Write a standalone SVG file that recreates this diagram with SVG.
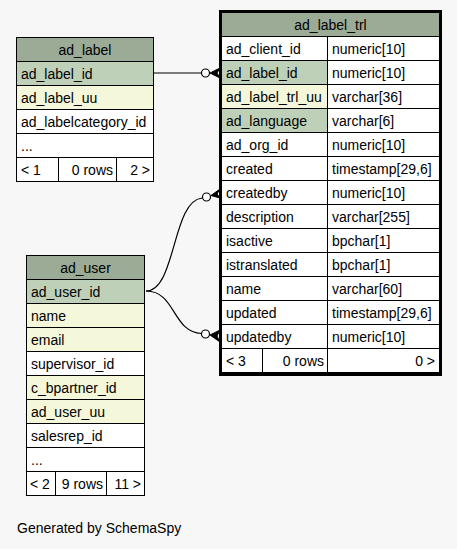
<svg xmlns="http://www.w3.org/2000/svg" width="457" height="549" viewBox="0 0 457 549">
<style>
.bg{fill:#f7f7f7}
rect{stroke:#000;stroke-width:1}
.h{fill:#9bab96}
.pk{fill:#bed1b8}
.ix{fill:#f4f7da}
.n{fill:#fff}
text{font-family:"Liberation Sans",Arial,sans-serif;font-size:14px;fill:#000}
.c{text-anchor:middle}
.r{text-anchor:end}
.edge{fill:none;stroke:#000;stroke-width:1.2}
.dot{fill:#fff;stroke:#000;stroke-width:1.2}
.crow{fill:#000;stroke:#000;stroke-width:1}
</style>
<rect class="bg" x="0" y="0" width="457" height="549" style="stroke:none"/>

<g id="connectors">
<path class="edge" d="M154,73 L201,73"/>
<circle class="dot" cx="205.5" cy="73" r="4"/>
<path class="crow" d="M210,73 L220,68 L217,73 L220,78 Z"/>

<path class="edge" d="M146,291 C176,291 172,201 202,198"/>
<circle class="dot" cx="206.5" cy="197" r="4"/>
<path class="crow" d="M211,195.5 L220,189 L217,194 L220,198 Z"/>

<path class="edge" d="M146,291 C176,291 172,332 201.5,333.5"/>
<circle class="dot" cx="205.5" cy="334" r="4"/>
<path class="crow" d="M210,335 L220,330 L217,336 L220,342 Z"/>
</g>

<g id="ad_label">
<rect class="h" x="16.5" y="37.5" width="137" height="24"/>
<text class="c" x="85" y="55">ad_label</text>
<rect class="pk" x="16.5" y="61.5" width="137" height="24"/>
<text x="21" y="79">ad_label_id</text>
<rect class="ix" x="16.5" y="85.5" width="137" height="24"/>
<text x="21" y="103">ad_label_uu</text>
<rect class="n" x="16.5" y="109.5" width="137" height="24"/>
<text x="21" y="127">ad_labelcategory_id</text>
<rect class="n" x="16.5" y="133.5" width="137" height="24"/>
<text x="21" y="151">...</text>
<rect class="n" x="16.5" y="157.5" width="42" height="24"/>
<text x="21" y="175">&lt; 1</text>
<rect class="n" x="58.5" y="157.5" width="58" height="24"/>
<text class="r" x="113" y="175">0 rows</text>
<rect class="n" x="116.5" y="157.5" width="37" height="24"/>
<text class="r" x="150" y="175">2 &gt;</text>
</g>

<g id="ad_label_trl">
<rect class="h" x="221.5" y="12.5" width="218" height="24"/>
<text class="c" x="330.5" y="30">ad_label_trl</text>
<rect class="n" x="221.5" y="36.5" width="106" height="24"/><rect class="n" x="327.5" y="36.5" width="112" height="24"/>
<text x="226" y="54">ad_client_id</text><text x="332" y="54">numeric[10]</text>
<rect class="pk" x="221.5" y="60.5" width="106" height="24"/><rect class="n" x="327.5" y="60.5" width="112" height="24"/>
<text x="226" y="78">ad_label_id</text><text x="332" y="78">numeric[10]</text>
<rect class="ix" x="221.5" y="84.5" width="106" height="24"/><rect class="n" x="327.5" y="84.5" width="112" height="24"/>
<text x="226" y="102">ad_label_trl_uu</text><text x="332" y="102">varchar[36]</text>
<rect class="pk" x="221.5" y="108.5" width="106" height="24"/><rect class="n" x="327.5" y="108.5" width="112" height="24"/>
<text x="226" y="126">ad_language</text><text x="332" y="126">varchar[6]</text>
<rect class="n" x="221.5" y="132.5" width="106" height="24"/><rect class="n" x="327.5" y="132.5" width="112" height="24"/>
<text x="226" y="150">ad_org_id</text><text x="332" y="150">numeric[10]</text>
<rect class="n" x="221.5" y="156.5" width="106" height="24"/><rect class="n" x="327.5" y="156.5" width="112" height="24"/>
<text x="226" y="174">created</text><text x="332" y="174">timestamp[29,6]</text>
<rect class="n" x="221.5" y="180.5" width="106" height="24"/><rect class="n" x="327.5" y="180.5" width="112" height="24"/>
<text x="226" y="198">createdby</text><text x="332" y="198">numeric[10]</text>
<rect class="n" x="221.5" y="204.5" width="106" height="24"/><rect class="n" x="327.5" y="204.5" width="112" height="24"/>
<text x="226" y="222">description</text><text x="332" y="222">varchar[255]</text>
<rect class="n" x="221.5" y="228.5" width="106" height="24"/><rect class="n" x="327.5" y="228.5" width="112" height="24"/>
<text x="226" y="246">isactive</text><text x="332" y="246">bpchar[1]</text>
<rect class="n" x="221.5" y="252.5" width="106" height="24"/><rect class="n" x="327.5" y="252.5" width="112" height="24"/>
<text x="226" y="270">istranslated</text><text x="332" y="270">bpchar[1]</text>
<rect class="n" x="221.5" y="276.5" width="106" height="24"/><rect class="n" x="327.5" y="276.5" width="112" height="24"/>
<text x="226" y="294">name</text><text x="332" y="294">varchar[60]</text>
<rect class="n" x="221.5" y="300.5" width="106" height="24"/><rect class="n" x="327.5" y="300.5" width="112" height="24"/>
<text x="226" y="318">updated</text><text x="332" y="318">timestamp[29,6]</text>
<rect class="n" x="221.5" y="324.5" width="106" height="24"/><rect class="n" x="327.5" y="324.5" width="112" height="24"/>
<text x="226" y="342">updatedby</text><text x="332" y="342">numeric[10]</text>
<rect class="n" x="221.5" y="348.5" width="41" height="24"/>
<text x="226" y="366">&lt; 3</text>
<rect class="n" x="262.5" y="348.5" width="65" height="24"/>
<text class="r" x="324" y="366">0 rows</text>
<rect class="n" x="327.5" y="348.5" width="112" height="24"/>
<text class="r" x="435" y="366">0 &gt;</text>
<rect x="220.5" y="11.5" width="220" height="363" style="fill:none;stroke-width:3"/>
</g>

<g id="ad_user">
<rect class="h" x="26.5" y="255.5" width="118" height="24"/>
<text class="c" x="85.5" y="273">ad_user</text>
<rect class="pk" x="26.5" y="279.5" width="118" height="24"/>
<text x="31" y="297">ad_user_id</text>
<rect class="ix" x="26.5" y="303.5" width="118" height="24"/>
<text x="31" y="321">name</text>
<rect class="ix" x="26.5" y="327.5" width="118" height="24"/>
<text x="31" y="345">email</text>
<rect class="n" x="26.5" y="351.5" width="118" height="24"/>
<text x="31" y="369">supervisor_id</text>
<rect class="ix" x="26.5" y="375.5" width="118" height="24"/>
<text x="31" y="393">c_bpartner_id</text>
<rect class="ix" x="26.5" y="399.5" width="118" height="24"/>
<text x="31" y="417">ad_user_uu</text>
<rect class="n" x="26.5" y="423.5" width="118" height="24"/>
<text x="31" y="441">salesrep_id</text>
<rect class="n" x="26.5" y="447.5" width="118" height="24"/>
<text x="31" y="465">...</text>
<rect class="n" x="26.5" y="471.5" width="29" height="24"/>
<text x="30" y="489">&lt; 2</text>
<rect class="n" x="55.5" y="471.5" width="51" height="24"/>
<text class="r" x="103" y="489">9 rows</text>
<rect class="n" x="106.5" y="471.5" width="38" height="24"/>
<text class="r" x="141" y="489">11 &gt;</text>
</g>

<text x="17" y="533">Generated by SchemaSpy</text>
</svg>
